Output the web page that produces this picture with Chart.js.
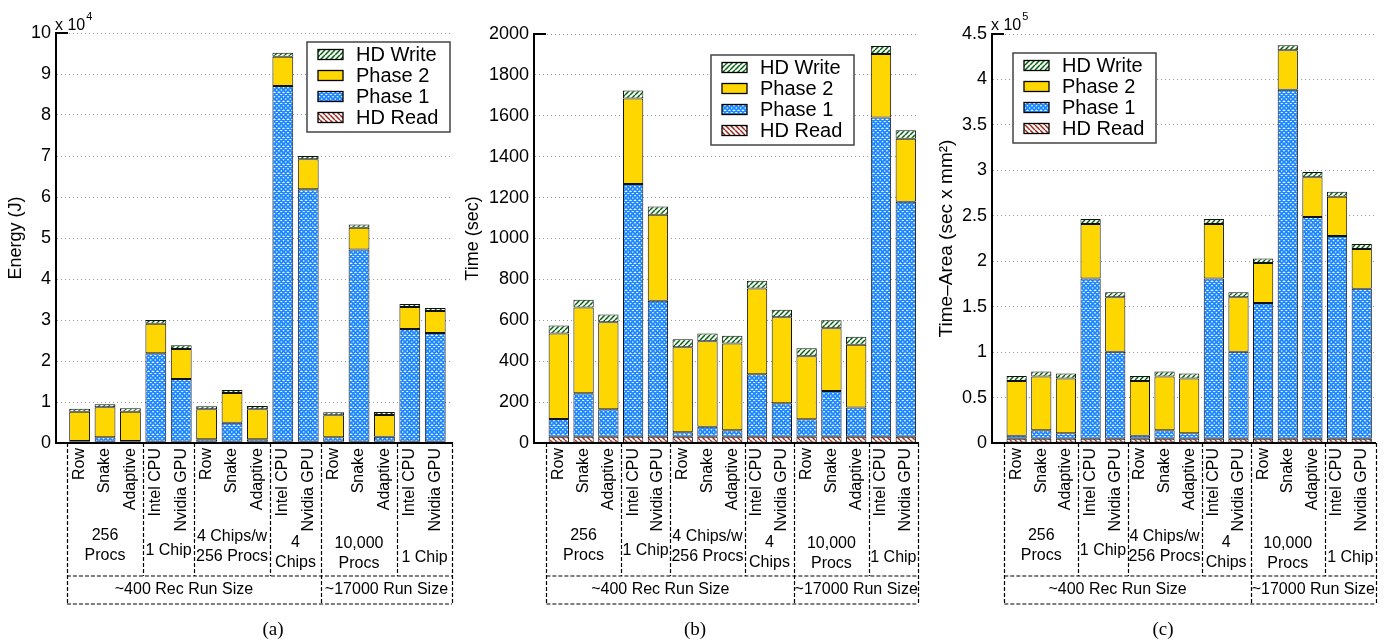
<!DOCTYPE html>
<html>
<head>
<meta charset="utf-8">
<script src="https://cdn.jsdelivr.net/npm/chart.js@4.4.0/dist/chart.umd.min.js"></script>
<style>
  html, body { margin: 0; padding: 0; background: #fff; }
  #wrap { position: relative; width: 1386px; height: 641px; overflow: hidden; background: #fff; }
  canvas { position: absolute; top: 0; }
</style>
</head>
<body>
<div id="wrap">
  <canvas id="energyChart" width="462" height="641" style="left:0px"></canvas>
  <canvas id="timeChart" width="475" height="641" style="left:455px"></canvas>
  <canvas id="areaChart" width="471" height="641" style="left:915px"></canvas>
</div>
<script>
// bars, left to right (same in all three panels)
const categories = ['Row', 'Snake', 'Adaptive', 'Intel CPU', 'Nvidia GPU',
  'Row', 'Snake', 'Adaptive', 'Intel CPU', 'Nvidia GPU',
  'Row', 'Snake', 'Adaptive', 'Intel CPU', 'Nvidia GPU'];
const groupSizes = [3, 2, 3, 2, 3, 2];
const groupNames = [['256', 'Procs'], ['1 Chip'], ['4 Chips/w', '256 Procs'], ['4', 'Chips'], ['10,000', 'Procs'], ['1 Chip']];
const runSizes = [10, 5];
const runNames = ['~400 Rec Run Size', '~17000 Run Size'];
const seriesNames = ['HD Read', 'Phase 1', 'Phase 2', 'HD Write'];

// (a) energy, J
const energyHdRead = [300, 300, 300, 300, 300, 300, 300, 300, 300, 300, 300, 300, 300, 300, 300];
const energyPhase1 = [190, 1080, 190, 21570, 15310, 590, 4660, 590, 86770, 61600, 1080, 46900, 1240, 27500, 26530];
const energyPhase2 = [7150, 7320, 7150, 7240, 7320, 7320, 7240, 7320, 7130, 7300, 5370, 5300, 5290, 5370, 5370];
const energyHdWrite = [730, 730, 820, 890, 890, 730, 730, 810, 1000, 800, 730, 800, 730, 730, 730];
const energyTicks = [0, 10000, 20000, 30000, 40000, 50000, 60000, 70000, 80000, 90000, 100000];

// (b) time, sec
const timeHdRead = [30, 30, 30, 30, 30, 30, 30, 30, 30, 30, 30, 30, 30, 30, 30];
const timePhase1 = [87, 213, 135, 1236, 666, 22, 50, 32, 306, 164, 86, 224, 143, 1562, 1150];
const timePhase2 = [419, 419, 425, 418, 420, 416, 417, 424, 419, 421, 308, 307, 308, 310, 308];
const timeHdWrite = [38, 39, 38, 40, 40, 39, 39, 39, 39, 37, 39, 39, 39, 39, 41];
const timeTicks = [0, 200, 400, 600, 800, 1000, 1200, 1400, 1600, 1800, 2000];

// (c) time-area, sec x mm^2
const areaHdRead = [4800, 4800, 4800, 4800, 4800, 4800, 4800, 4800, 4800, 4800, 4800, 4800, 4800, 4800, 4800];
const areaPhase1 = [3300, 9100, 5800, 176300, 95700, 3300, 9100, 5800, 176300, 95700, 149200, 383900, 243800, 222900, 165000];
const areaPhase2 = [60100, 59400, 60500, 59800, 59800, 60100, 59400, 60500, 59800, 59800, 44000, 43300, 43700, 43300, 43600];
const areaHdWrite = [5500, 5500, 5500, 5500, 5500, 5500, 5500, 5500, 5500, 5500, 5100, 5500, 5800, 5500, 5500];
const areaTicks = [0, 50000, 100000, 150000, 200000, 250000, 300000, 350000, 400000, 450000];

const FONT = "'Liberation Sans', Arial, Helvetica, sans-serif";
Chart.defaults.font.family = FONT;
Chart.defaults.color = '#000';

function hatch(color, slash) {
  const n = 5;
  const c = document.createElement('canvas');
  c.width = n; c.height = n;
  const g = c.getContext('2d');
  g.fillStyle = '#fff';
  g.fillRect(0, 0, n, n);
  g.strokeStyle = color;
  g.lineWidth = 1.5;
  g.beginPath();
  for (let k = -1; k <= 1; k++) {
    const o = k * n;
    if (slash) { g.moveTo(o, n); g.lineTo(o + n, 0); }
    else { g.moveTo(o, 0); g.lineTo(o + n, n); }
  }
  g.stroke();
  return g.createPattern(c, 'repeat');
}

function crossHatch(color) {
  const n = 9;
  const c = document.createElement('canvas');
  c.width = n; c.height = n;
  const g = c.getContext('2d');
  g.fillStyle = '#fff';
  g.fillRect(0, 0, n, n);
  g.strokeStyle = color;
  g.lineWidth = 1.9;
  g.beginPath();
  for (let k = -2; k <= 2; k++) {
    const o = k * 4.5;
    g.moveTo(o, 0); g.lineTo(o + n, n);
    g.moveTo(o, n); g.lineTo(o + n, 0);
  }
  g.stroke();
  return g.createPattern(c, 'repeat');
}

const fills = [hatch('#a0281e', false), crossHatch('#1e88ff'), '#ffd700', hatch('#00640a', true)];

function makeDecor(s) {
  return {
    id: 'decor',
    afterDraw(chart) {
      const ctx = chart.ctx;
      const area = chart.chartArea;
      const xs = chart.scales.x;
      ctx.save();

      // short tick on top of the y axis
      ctx.strokeStyle = '#000';
      ctx.lineWidth = 2;
      ctx.beginPath();
      ctx.moveTo(area.left, area.top);
      ctx.lineTo(area.left + 12, area.top);
      ctx.stroke();

      ctx.fillStyle = '#000';
      ctx.textAlign = 'left';
      ctx.textBaseline = 'alphabetic';
      if (s.exp) {
        ctx.font = '16px ' + FONT;
        const base = 'x 10';
        ctx.fillText(base, area.left - 1, 30);
        const w = ctx.measureText(base).width;
        ctx.font = '11px ' + FONT;
        ctx.fillText(s.exp, area.left + w, 20);
      }

      // legend
      const L = s.legend;
      ctx.fillStyle = '#fff';
      ctx.fillRect(L.x, L.y, 143, 90);
      ctx.strokeStyle = '#444';
      ctx.lineWidth = 1.5;
      ctx.strokeRect(L.x, L.y, 143, 90);
      ctx.font = '20px ' + FONT;
      ctx.textBaseline = 'middle';
      for (let r = 0; r < 4; r++) {
        const k = 3 - r;
        const cy = L.y + 12.5 + r * 21;
        ctx.fillStyle = fills[k];
        ctx.fillRect(L.x + 11, cy - 5, 25, 10);
        ctx.strokeStyle = '#000';
        ctx.lineWidth = 1.3;
        ctx.strokeRect(L.x + 11, cy - 5, 25, 10);
        ctx.fillStyle = '#000';
        ctx.fillText(seriesNames[k], L.x + 49, cy + 1);
      }

      // group table under the axis
      const yTop = area.bottom, yMid = 576, yBot = 604;
      const px = v => (v >= categories.length + 0.5 ? area.right : xs.getPixelForValue(v));
      const groupEdges = [0.5];
      groupSizes.forEach(n => groupEdges.push(groupEdges[groupEdges.length - 1] + n));
      const runEdges = [0.5];
      runSizes.forEach(n => runEdges.push(runEdges[runEdges.length - 1] + n));

      ctx.strokeStyle = '#000';
      ctx.lineWidth = 1.2;
      ctx.setLineDash([4, 2]);
      ctx.beginPath();
      groupEdges.forEach(e => {
        const x = Math.round(px(e)) + 0.5;
        ctx.moveTo(x, yTop);
        ctx.lineTo(x, runEdges.includes(e) ? yBot : yMid);
      });
      ctx.moveTo(px(0.5), yMid); ctx.lineTo(area.right, yMid);
      ctx.moveTo(px(0.5), yBot); ctx.lineTo(area.right, yBot);
      ctx.stroke();
      ctx.setLineDash([]);

      ctx.fillStyle = '#000';
      ctx.font = '16px ' + FONT;
      ctx.textAlign = 'center';
      ctx.textBaseline = 'middle';
      groupNames.forEach((lines, g) => {
        const cx = (px(groupEdges[g]) + px(groupEdges[g + 1])) / 2;
        lines.forEach((t, j) => ctx.fillText(t, cx, s.groupY[g] + j * 20));
      });
      runNames.forEach((t, r) => {
        const cx = (px(runEdges[r]) + px(runEdges[r + 1])) / 2 + (r === 0 ? -10 : 0);
        ctx.fillText(t, cx, 590);
      });

      ctx.font = "19px 'Liberation Serif', 'Times New Roman', serif";
      ctx.fillText(s.caption, s.capX, 630);
      ctx.restore();
    }
  };
}

function buildChart(id, s) {
  const toPts = arr => arr.map((v, i) => ({ x: i + 1, y: v }));
  const sets = [s.hdRead, s.phase1, s.phase2, s.hdWrite];
  new Chart(document.getElementById(id), {
    type: 'bar',
    data: {
      datasets: sets.map((arr, k) => ({
        label: seriesNames[k],
        data: toPts(arr),
        backgroundColor: fills[k],
        borderColor: '#111',
        borderWidth: 1,
        borderSkipped: false,
        categoryPercentage: 1,
        barPercentage: 0.82,
      })),
    },
    options: {
      responsive: false,
      animation: false,
      events: [],
      layout: { padding: { left: 0, right: s.padRight, top: s.top, bottom: 0 } },
      plugins: { legend: { display: false }, tooltip: { enabled: false } },
      scales: {
        x: {
          type: 'linear',
          min: s.xMin,
          max: s.xMax,
          stacked: true,
          offset: false,
          afterBuildTicks: a => { a.ticks = categories.map((c, i) => ({ value: i + 1 })); },
          afterFit: a => { a.height = 641 - 443; },
          ticks: {
            autoSkip: false, maxRotation: 90, minRotation: 90, padding: 5,
            color: '#000', font: { size: 16 },
            callback: v => categories[v - 1],
          },
          grid: { display: false, drawTicks: false },
          border: { display: true, color: '#000', width: 2 },
        },
        y: {
          stacked: true,
          min: 0,
          max: s.ticks[s.ticks.length - 1],
          afterBuildTicks: a => { a.ticks = s.ticks.map(v => ({ value: v })); },
          afterFit: a => { a.width = s.left; },
          ticks: { padding: 5, color: '#000', font: { size: 18 }, callback: v => s.fmt(v) },
          grid: { color: '#999', lineWidth: 1, drawTicks: false },
          border: { display: true, color: '#000', width: 2, dash: [1, 3] },
          title: { display: true, text: s.title, color: '#000', font: { size: s.titleSize }, padding: s.titlePad },
        },
      },
    },
    plugins: [makeDecor(s)],
  });
}

buildChart('energyChart', {
  hdRead: energyHdRead, phase1: energyPhase1, phase2: energyPhase2, hdWrite: energyHdWrite,
  ticks: energyTicks, fmt: v => String(v / 10000), title: 'Energy (J)', titleSize: 18, exp: '4',
  left: 56, padRight: 10, top: 33, xMin: 0.07, xMax: 15.66, titlePad: 5,
  legend: { x: 307, y: 42 }, groupY: [536, 551, 537, 543, 544, 558], caption: '(a)', capX: 273,
});

buildChart('timeChart', {
  hdRead: timeHdRead, phase1: timePhase1, phase2: timePhase2, hdWrite: timeHdWrite,
  ticks: timeTicks, fmt: v => String(v), title: 'Time (sec)', titleSize: 18, exp: null,
  left: 79, padRight: 1, top: 34, xMin: 0, xMax: 15.5, titlePad: 7,
  legend: { x: 256, y: 55 }, groupY: [536, 551, 537, 543, 544, 558], caption: '(b)', capX: 240,
});

buildChart('areaChart', {
  hdRead: areaHdRead, phase1: areaPhase1, phase2: areaPhase2, hdWrite: areaHdWrite,
  ticks: areaTicks, fmt: v => String(v / 100000), title: 'Time–Area (sec x mm²)', titleSize: 19, exp: '5',
  left: 77, padRight: 2, top: 34, xMin: 0, xMax: 15.57, titlePad: 20,
  legend: { x: 98, y: 53 }, groupY: [536, 551, 537, 543, 544, 558], caption: '(c)', capX: 248,
});
</script>
</body>
</html>
